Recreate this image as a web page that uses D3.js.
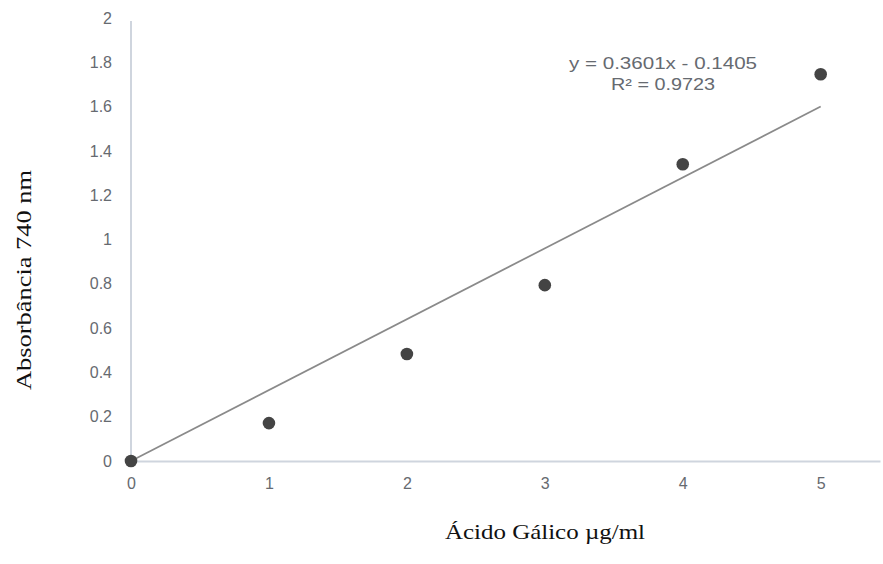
<!DOCTYPE html>
<html>
<head>
<meta charset="utf-8">
<script src="https://cdn.jsdelivr.net/npm/d3@7"></script>
<style>
  body { margin: 0; background: #fff; }
  .tick text { font-family: "Liberation Sans", Arial, sans-serif; font-size: 16px; fill: #666a70; }
  .axis path { stroke: #cfd5de; stroke-width: 2; }
  .eq { font-family: "Liberation Sans", Arial, sans-serif; font-size: 16px; fill: #666a70; }
  .title { font-family: "Liberation Serif", "Times New Roman", serif; font-size: 21px; fill: #111; }
</style>
</head>
<body>
<script>
(function(){

    // data
    var concentration = [0, 1, 2, 3, 4, 5];
    var absorbance = [0, 0.171, 0.483, 0.794, 1.34, 1.746];
    var trendX = [0, 5];
    var trendY = [0, 1.60];
    var yTicks = [0, 0.2, 0.4, 0.6, 0.8, 1, 1.2, 1.4, 1.6, 1.8, 2];
    var xTicks = [0, 1, 2, 3, 4, 5];
    var equation = ["y = 0.3601x - 0.1405", "R² = 0.9723"];

    var width = 883,
        height = 564;

    var svg = d3.select("body")
        .append("svg")
        .attr("width", width)
        .attr("height", height);

    var x = d3.scaleLinear().domain([0, 5.43]).range([131, 880]);
    var y = d3.scaleLinear().domain([0, 2]).range([461, 18]);

    // y axis: line only, labels to the left
    var yAxis = d3.axisLeft(y)
        .tickValues(yTicks)
        .tickSize(0)
        .tickPadding(19)
        .tickFormat(function(d){ return String(+d.toFixed(1)); });

    var gy = svg.append("g")
        .attr("class", "axis")
        .attr("transform", "translate(" + x(0) + ",0)")
        .call(yAxis);
    gy.select(".domain").attr("d", "M0," + y(0) + "V" + (y(2) + 3));

    var xAxis = d3.axisBottom(x)
        .tickValues(xTicks)
        .tickSize(0)
        .tickPadding(17)
        .tickFormat(d3.format("d"));

    svg.append("g")
        .attr("class", "axis")
        .attr("transform", "translate(0," + y(0) + ")")
        .call(xAxis);

    // trend line
    var line = d3.line()
        .x(function(d){ return x(d[0]); })
        .y(function(d){ return y(d[1]); });

    svg.append("path")
        .datum(d3.zip(trendX, trendY))
        .attr("d", line)
        .attr("fill", "none")
        .attr("stroke", "#8a8a8a")
        .attr("stroke-width", 1.7);

    // points
    svg.selectAll(".pt")
        .data(d3.zip(concentration, absorbance))
        .enter()
        .append("circle")
        .attr("class", "pt")
        .attr("cx", function(d){ return x(d[0]); })
        .attr("cy", function(d){ return y(d[1]); })
        .attr("r", 6.3)
        .attr("fill", "#444");

    // equation label
    var eqWidths = [188, 104];
    svg.selectAll(".eq")
        .data(equation)
        .enter()
        .append("text")
        .attr("class", "eq")
        .attr("text-anchor", "middle")
        .attr("x", 663)
        .attr("y", function(d, i){ return 69 + i * 21; })
        .attr("textLength", function(d, i){ return eqWidths[i]; })
        .attr("lengthAdjust", "spacingAndGlyphs")
        .text(function(d){ return d; });

    // axis titles
    svg.append("text")
        .attr("class", "title")
        .attr("text-anchor", "middle")
        .attr("transform", "translate(31,280) rotate(-90)")
        .attr("textLength", 220)
        .attr("lengthAdjust", "spacingAndGlyphs")
        .text("Absorbância 740 nm");

    svg.append("text")
        .attr("class", "title")
        .attr("text-anchor", "middle")
        .attr("x", 545)
        .attr("y", 539)
        .attr("textLength", 200)
        .attr("lengthAdjust", "spacingAndGlyphs")
        .text("Ácido Gálico µg/ml");

})();
</script>
</body>
</html>
